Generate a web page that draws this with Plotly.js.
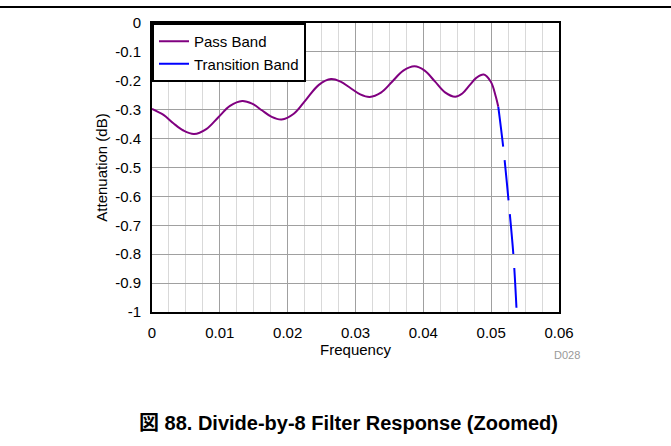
<!DOCTYPE html>
<html>
<head>
<meta charset="utf-8">
<script src="https://cdn.plot.ly/plotly-3.0.1.min.js"></script>
<style>html,body{margin:0;padding:0;background:#fff;}#chart{width:671px;height:446px;}</style>
</head>
<body>
<div id="chart"></div>
<script>
// Pass band (frequency, attenuation dB)
var passFreq = [0, 0.0017, 0.00315, 0.00463, 0.0062, 0.0080, 0.00975, 0.0115, 0.0133, 0.01475, 0.0162, 0.01765, 0.0191, 0.0209, 0.02275, 0.0246, 0.0264, 0.0278, 0.02925, 0.0307, 0.0321, 0.03375, 0.0354, 0.03705, 0.0387, 0.0402, 0.0417, 0.0432, 0.0447, 0.04575, 0.0468, 0.04785, 0.0489, 0.04995, 0.05069, 0.05105];
var passAtt  = [-0.297, -0.318, -0.347, -0.372, -0.384, -0.367, -0.327, -0.287, -0.270, -0.279, -0.302, -0.325, -0.334, -0.314, -0.264, -0.214, -0.194, -0.203, -0.225, -0.247, -0.256, -0.241, -0.203, -0.165, -0.150, -0.165, -0.202, -0.240, -0.255, -0.244, -0.216, -0.189, -0.178, -0.203, -0.255, -0.29];
// Transition band
var transFreq = [0.05105, 0.0518, 0.0526, 0.0533, 0.05376];
var transAtt  = [-0.29, -0.434, -0.624, -0.81, -1.0];
// Tick labels
var xTickVals = [0, 0.01, 0.02, 0.03, 0.04, 0.05, 0.06];
var xTickText = ["0", "0.01", "0.02", "0.03", "0.04", "0.05", "0.06"];
var yTickVals = [0, -0.1, -0.2, -0.3, -0.4, -0.5, -0.6, -0.7, -0.8, -0.9, -1];
var yTickText = ["0", "-0.1", "-0.2", "-0.3", "-0.4", "-0.5", "-0.6", "-0.7", "-0.8", "-0.9", "-1"];

var FONT = "Liberation Sans, Arial, Noto Sans CJK JP, sans-serif";
var L = 152, R = 112, T = 23, B = 134;
var PW = 671 - L - R, PH = 446 - T - B;
function px(x) { return (x - L) / PW; }
function py(y) { return (446 - B - y) / PH; }

var traces = [
  {x: passFreq, y: passAtt, name: "Pass Band", mode: "lines",
   line: {color: "#800080", width: 2, shape: "spline", smoothing: 1}},
  {x: transFreq, y: transAtt, name: "Transition Band", mode: "lines",
   line: {color: "#0000ff", width: 2, shape: "spline", dash: "40px,14px"}}
];

var layout = {
  width: 671, height: 446,
  margin: {l: L, r: R, t: T, b: B},
  paper_bgcolor: "#fff", plot_bgcolor: "#fff",
  font: {family: FONT, size: 15, color: "#000"},
  showlegend: true,
  legend: {x: 0, y: 1, xanchor: "left", yanchor: "top", bgcolor: "#fff",
           bordercolor: "#000", borderwidth: 2, font: {size: 15},
           tracegroupgap: 0, itemwidth: 30},
  xaxis: {range: [0, 0.06], tickvals: xTickVals, ticktext: xTickText,
          showgrid: true, gridcolor: "#a0a0a0", gridwidth: 1,
          minor: {dtick: 0.0025, showgrid: true, gridcolor: "#d9d9d9", gridwidth: 1},
          showline: true, linecolor: "#000", linewidth: 2, mirror: true,
          ticks: "", zeroline: false, fixedrange: true, ticklabelstandoff: 6,
          title: {text: "Frequency", font: {size: 15}, standoff: 0}},
  yaxis: {range: [-1, 0], tickvals: yTickVals, ticktext: yTickText,
          showgrid: true, gridcolor: "#a0a0a0", gridwidth: 1,
          showline: true, linecolor: "#000", linewidth: 2, mirror: true,
          ticks: "", zeroline: false, fixedrange: true, ticklabelstandoff: 6,
          title: {text: "Attenuation (dB)", font: {size: 15}, standoff: 4}},
  shapes: [
    {type: "line", xref: "paper", yref: "paper", x0: px(0), x1: px(671),
     y0: py(7), y1: py(7), line: {color: "#000", width: 2}}
  ],
  annotations: [
    {xref: "paper", yref: "paper", x: px(582), y: py(355), xanchor: "right", yanchor: "middle",
     text: "D028", showarrow: false, font: {size: 11, color: "#999"}},
    {xref: "paper", yref: "paper", x: px(348.5), y: py(423),
     xanchor: "center", yanchor: "middle", showarrow: false,
     text: "<b>図 88. Divide-by-8 Filter Response (Zoomed)</b>",
     font: {size: 20, color: "#000", family: FONT}}
  ]
};

Plotly.newPlot("chart", traces, layout, {displayModeBar: false, staticPlot: true});
</script>
</body>
</html>
